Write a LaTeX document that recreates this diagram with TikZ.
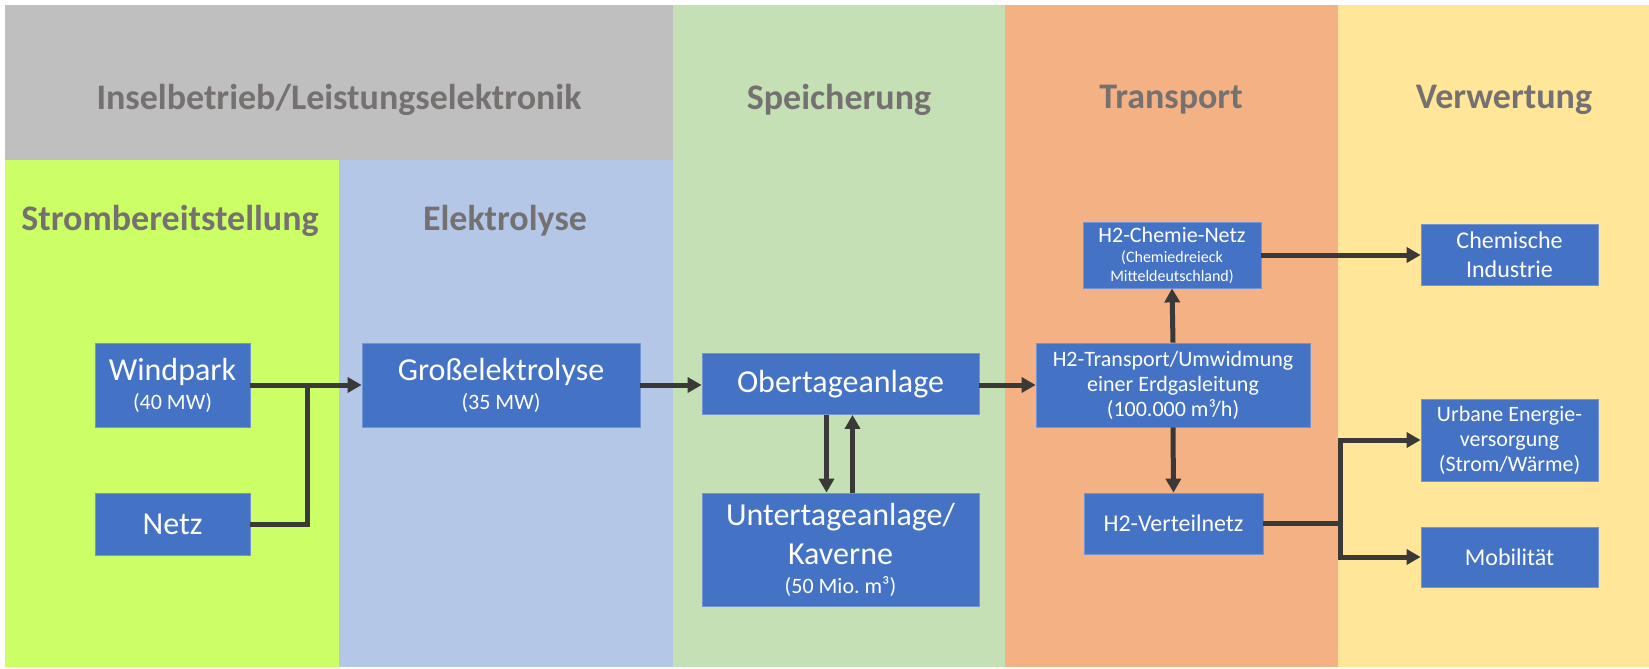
\documentclass[tikz,border=0pt]{standalone}
\usepackage{fontspec}
\setmainfont{Carlito}
\usetikzlibrary{arrows.meta}

\definecolor{bandgray}{RGB}{191,191,191}
\definecolor{stromgreen}{RGB}{204,255,102}
\definecolor{elektroblue}{RGB}{180,199,231}
\definecolor{speichergreen}{RGB}{197,224,180}
\definecolor{transporange}{RGB}{244,177,131}
\definecolor{verwyellow}{RGB}{255,230,153}
\definecolor{boxblue}{RGB}{68,114,196}
\definecolor{titlegray}{RGB}{118,113,113}
\definecolor{arrowgray}{RGB}{59,56,56}

\newcommand{\subtxt}{\fontsize{11}{12.5}\selectfont}
\newcommand{\tinytxt}{\fontsize{8}{9.5}\selectfont}

\begin{document}
\begin{tikzpicture}[x=0.5pt,y=-0.5pt,
    box/.style={rectangle, fill=boxblue, draw=boxblue!75!white, line width=0.4pt,
      text=white, align=center, inner sep=0pt, font=\fontsize{16}{19.5}\selectfont},
    midbox/.style={box, font=\fontsize{12}{14.5}\selectfont},
    smallbox/.style={box, font=\subtxt},
    title/.style={text=titlegray, font=\fontsize{18}{22}\selectfont\bfseries},
    arr/.style={draw=arrowgray, line width=2.5pt, -{Triangle[length=7pt,width=7.5pt]}},
    link/.style={draw=arrowgray, line width=2.5pt}]
      \useasboundingbox (0,0) rectangle (1649,669);

      % columns
      \fill[bandgray]      (5,5)    rectangle (673,160);
      \fill[stromgreen]    (5,160)  rectangle (339,667);
      \fill[elektroblue]   (339,160) rectangle (673,667);
      \fill[speichergreen] (673,5)  rectangle (1005,667);
      \fill[transporange]  (1005,5) rectangle (1338,667);
      \fill[verwyellow]    (1338,5) rectangle (1649,667);

      % headings
      \node at (339,100)  [title] (insel)    {Inselbetrieb/Leistungselektronik};
      \node at (839,100)  [title] (speicher) {Speicherung};
      \node at (1171,100) [title] (transp)   {Transport};
      \node at (1504,100) [title] (verw)     {Verwertung};
      \node at (170,221)  [title] (strom)    {Strombereitstellung};
      \node at (505,221)  [title] (elektro)  {Elektrolyse};

      % boxes
      \node at (172.5,385) [box, minimum width=77.5pt, minimum height=42pt] (windpark) {Windpark\\[-5pt]\subtxt (40 MW)};
      \node at (172.5,524) [box, minimum width=77.5pt, minimum height=31pt] (netz)     {Netz};
      \node at (501,385)   [box, minimum width=139pt, minimum height=42pt]  (gross)    {Großelektrolyse\\[-5pt]\subtxt (35 MW)};
      \node at (840.5,384) [box, minimum width=138.5pt, minimum height=30.5pt] (ober) {Obertageanlage};
      \node at (840.5,549.5) [box, minimum width=138.5pt, minimum height=56.5pt] (unter) {Untertageanlage/\\Kaverne\\[-5pt]\subtxt (50 Mio.~m³)};
      \node at (1173,385)  [smallbox, minimum width=137pt, minimum height=42pt] (transport) {H2-Transport/Umwidmung\\einer Erdgasleitung\\(100.000 m³/h)};
      \node at (1173.5,523.5) [midbox, minimum width=89.5pt, minimum height=30.5pt] (verteil) {H2-Verteilnetz};
      \node at (1172,255)  [smallbox, minimum width=89pt, minimum height=33pt] (chemnetz) {H2-Chemie-Netz\\[-2.5pt]\tinytxt (Chemiedreieck\\[-3pt]\tinytxt Mitteldeutschland)};
      \node at (1509.5,254.5) [midbox, minimum width=88.5pt, minimum height=30.5pt] (chemind) {Chemische\\Industrie};
      \node at (1509.5,440) [smallbox, minimum width=88.5pt, minimum height=41pt] (urban) {Urbane Energie-\\versorgung\\(Strom/Wärme)};
      \node at (1509.5,557) [midbox, minimum width=88.5pt, minimum height=30pt] (mobil) {Mobilität};

      \coordinate (merge) at (307,385);
      \coordinate (split) at (1340,523.5);

      % connectors
      \draw[link] (netz.east) -| (merge);
      \draw[arr]  (windpark.east) -- (gross.west);
      \draw[arr]  (gross.east) -- (gross.east -| ober.west);
      \draw[arr]  (ober.east |- transport.west) -- (transport.west);
      \draw[arr]  ([xshift=-7pt]ober.south) -- ([xshift=-7pt]unter.north);
      \draw[arr]  ([xshift=6pt]unter.north) -- ([xshift=6pt]ober.south);
      \draw[arr]  (transport.north) -- (chemnetz.south);
      \draw[arr]  (transport.south) -- (verteil.north);
      \draw[arr]  (chemnetz.east) -- (chemnetz.east -| chemind.west);
      \draw[link] (verteil.east) -- (split);
      \draw[arr]  (split) |- (urban.west);
      \draw[arr]  (split) |- (mobil.west);
\end{tikzpicture}
\end{document}
